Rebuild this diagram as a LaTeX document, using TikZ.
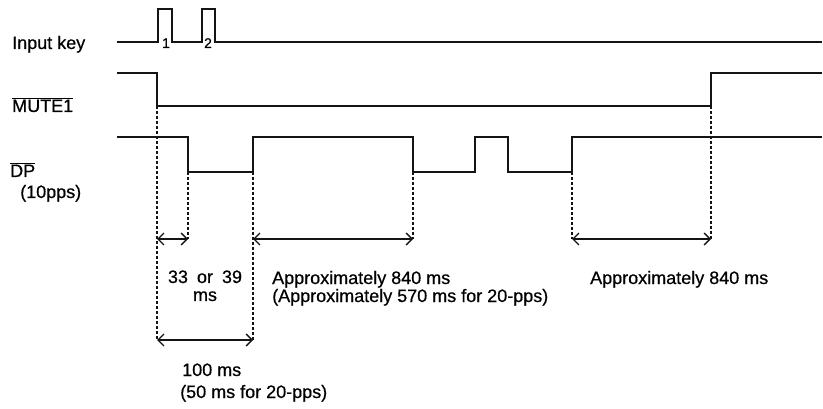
\documentclass[tikz,border=0pt]{standalone}
\usepackage{fontspec}
\setmainfont{Liberation Sans}[BoldFont=Liberation Sans, BoldFeatures={FakeBold=0.6}]
\usetikzlibrary{arrows.meta}
\definecolor{sigclr}{RGB}{20,20,20}
\tikzset{
  % Signal waveforms
  sigline/.style  = {line width=2.5pt, draw=sigclr, line join=miter},
  % Dashed guide lines
  guide/.style    = {dash pattern=on 3pt off 2pt, line width=1.3pt, draw=sigclr},
  % Timing arrows
  dimline/.style  = {{Straight Barb[length=6pt,width=12pt]}-{Straight Barb[length=6pt,width=12pt]},
                     line width=1.4pt, draw=sigclr},
  % Labels
  lab/.style      = {font=\fontsize{18}{20}\selectfont\bfseries, inner sep=0pt, anchor=base west},
  labc/.style     = {font=\fontsize{18}{20}\selectfont\bfseries, inner sep=0pt, anchor=base},
  pulselab/.style = {font=\fontsize{14}{16}\selectfont\bfseries, inner sep=0pt, anchor=base},
}
\begin{document}
\begin{tikzpicture}[x=1pt,y=-1pt]
  \useasboundingbox (0,0) rectangle (823,409);
  \def\xs{117}
  \def\xe{822}
  % Input key
  \draw[sigline] (\xs,42) -- (158,42) -- (158,9) -- (172,9) -- (172,42)
    -- (202,42) -- (202,9) -- (215,9) -- (215,42) -- (\xe,42);
  % MUTE1
  \draw[sigline] (\xs,73) -- (157,73) -- (157,106) -- (711,106)
    -- (711,73) -- (\xe,73);
  % DP
  \draw[sigline] (\xs,137) -- (188,137) -- (188,172) -- (253,172)
    -- (253,137) -- (413,137) -- (413,172) -- (475,172) -- (475,137)
    -- (508,137) -- (508,172) -- (572,172) -- (572,137) -- (\xe,137);
  % Guide points
  \coordinate (g1t) at (157,106); \coordinate (g1b) at (157,340);
  \coordinate (g2t) at (188,172); \coordinate (g2b) at (188,239);
  \coordinate (g3t) at (253,172); \coordinate (g3b) at (253,340);
  \coordinate (g4t) at (413,172); \coordinate (g4b) at (413,239);
  \coordinate (g5t) at (572,172); \coordinate (g5b) at (572,239);
  \coordinate (g6t) at (711,106); \coordinate (g6b) at (711,239);
  \foreach \g in {1,...,6}
    \draw[guide] (g\g t) -- (g\g b);
  % Arrows
  \draw[dimline] (157,239) -- (g2b);
  \draw[dimline] (253,239) -- (g4b);
  \draw[dimline] (g5b) -- (g6b);
  \draw[dimline] (g1b) -- (g3b);
  % Signal names
  \node[lab] (inkey) at (12,49) {Input key};
  \node[lab] (mute) at (12,112) {$\overline{\mbox{MUTE1}}$};
  \node[lab] (dp) at (10,177) {$\overline{\mbox{DP}}$};
  \node[lab] (pps) at (20,198) {(10pps)};
  \node[pulselab] (p1) at (166,48) {1};
  \node[pulselab] (p2) at (208,48) {2};
  % Timing labels
  \node[labc] (t33) at (205,283) {33\hspace{4pt} or\hspace{4pt} 39};
  \node[labc] (t33b) at (205,301) {ms};
  \node[lab] (t840) at (272,284) {Approximately 840 ms};
  \node[lab] (t570) at (272,302) {(Approximately 570 ms for 20-pps)};
  \node[lab] (t840b) at (590,284) {Approximately 840 ms};
  \node[lab] (t100) at (182,376) {100 ms};
  \node[lab] (t50) at (180,398) {(50 ms for 20-pps)};
\end{tikzpicture}
\end{document}
